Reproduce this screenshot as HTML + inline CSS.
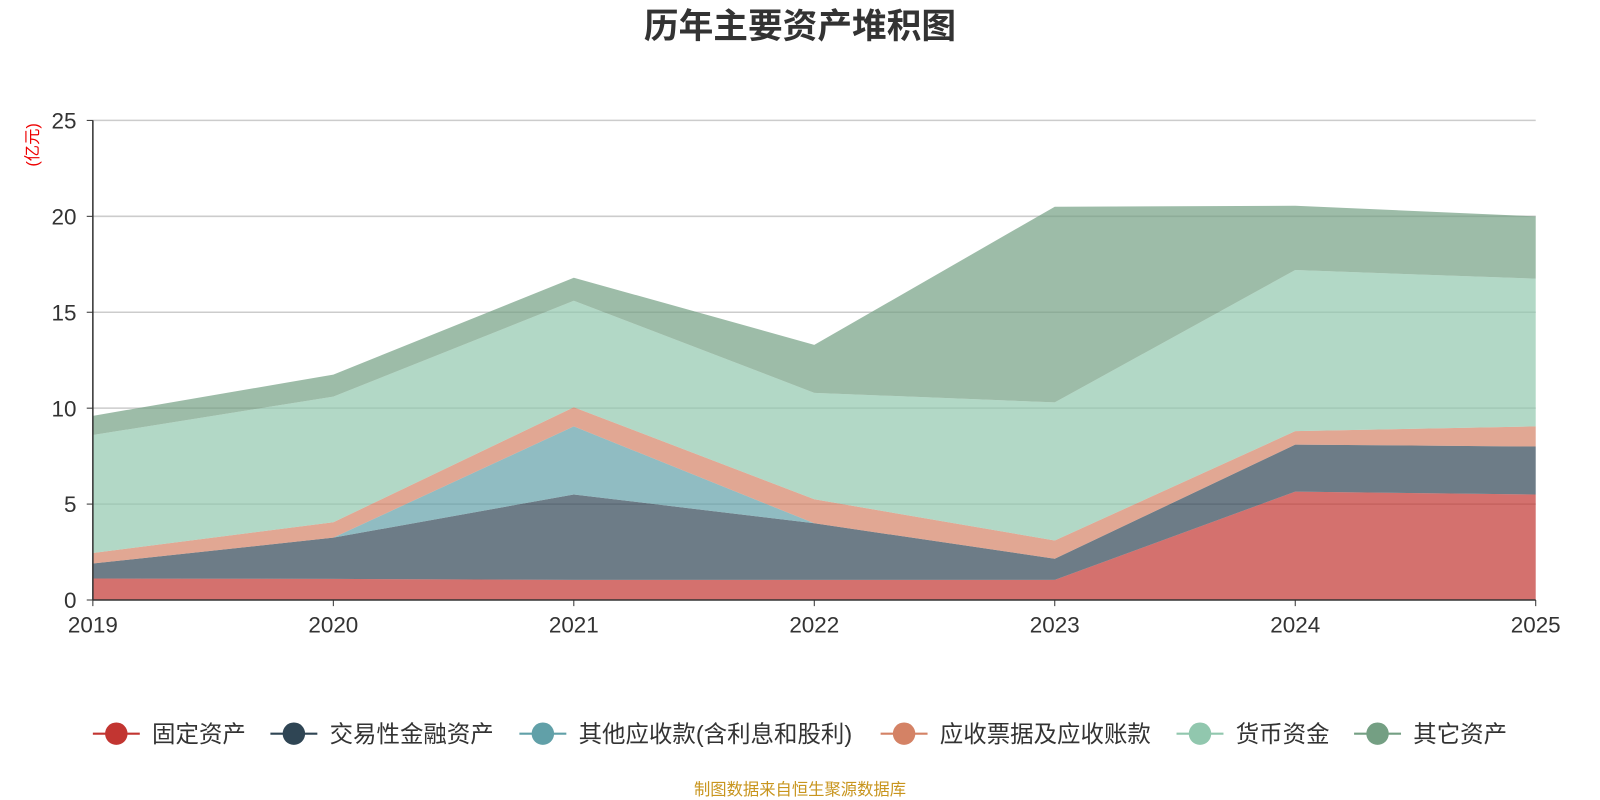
<!DOCTYPE html>
<html><head><meta charset="utf-8"><style>
body{margin:0;background:#fff;}
svg{display:block;font-family:"Liberation Sans","Noto Sans CJK SC",sans-serif;}
</style></head><body>
<svg id="c" width="1600" height="800" viewBox="0 0 1568 784">
<text x="784" y="37" text-anchor="middle" font-size="34" font-weight="bold" fill="#333">历年主要资产堆积图</text>
<text transform="translate(37,142) rotate(-90)" text-anchor="middle" font-size="16" fill="#e00">(亿元)</text>
<g id="grid"></g><g id="areas"></g><g id="axes"></g><g id="legend"></g>
<text x="784" y="779" text-anchor="middle" font-size="16" fill="#c8951e">制图数据来自恒生聚源数据库</text>
</svg>
<script>
const years=['2019','2020','2021','2022','2023','2024','2025'];
const seriesNames=['固定资产','交易性金融资产','其他应收款(含利息和股利)','应收票据及应收账款','货币资金','其它资产'];
const fixedAssets=[1.12,1.1,1.05,1.05,1.05,5.65,5.5];
const tradingAssets=[0.78,2.15,4.45,2.95,1.1,2.45,2.5];
const otherReceivables=[0,0,3.55,0,0,0,0];
const receivables=[0.55,0.8,1.0,1.25,0.95,0.7,1.05];
const cash=[6.15,6.55,5.55,5.55,7.2,8.4,7.7];
const otherAssets=[1.0,1.15,1.2,2.5,10.2,3.35,3.25];
const yTicks=[0,5,10,15,20,25];
const colors=['#c23531','#2f4554','#61a0a8','#d48265','#91c7ae','#749f83'];
const ns='http://www.w3.org/2000/svg';
const X0=91,X1=1505,Y0=588,Y1=118,YMAX=25;
const xs=i=>X0+(X1-X0)*i/(years.length-1);
const ys=v=>Y0-(Y0-Y1)*v/YMAX;
function mk(t,a,p){const e=document.createElementNS(ns,t);for(const k in a)e.setAttribute(k,a[k]);p.appendChild(e);return e;}
const G=document.getElementById('grid'),A=document.getElementById('areas'),AX=document.getElementById('axes'),L=document.getElementById('legend');
yTicks.forEach(t=>{
 if(t>0){const l=mk('line',{x1:X0,x2:X1,y1:ys(t),y2:ys(t),stroke:'#ccc','stroke-width':1.5},G);
 
 }
 const tx=mk('text',{x:X0-16,y:ys(t)+8,'text-anchor':'end','font-size':22,fill:'#333'},AX);tx.textContent=t;
 
 
 mk('line',{x1:X0-6,x2:X0,y1:ys(t),y2:ys(t),stroke:'#333'},AX);
});
const data=[fixedAssets,tradingAssets,otherReceivables,receivables,cash,otherAssets];
let base=years.map(()=>0);
data.forEach((s,k)=>{
 const top=base.map((b,i)=>b+s[i]);
 let d='M'+top.map((v,i)=>xs(i)+','+ys(v)).join(' L');
 for(let i=years.length-1;i>=0;i--)d+=' L'+xs(i)+','+ys(base[i]);
 const p=mk('path',{d:d+'Z',fill:colors[k],'fill-opacity':0.7},A);
 
 
 base=top;
});
mk('line',{x1:X0,x2:X0,y1:Y1,y2:Y0,stroke:'#333','stroke-width':1.5},AX);
mk('line',{x1:X0,x2:X1,y1:Y0,y2:Y0,stroke:'#333','stroke-width':1.5},AX);
years.forEach((y,i)=>{
 mk('line',{x1:xs(i),x2:xs(i),y1:Y0,y2:Y0+6,stroke:'#333'},AX);
 const t=mk('text',{x:xs(i),y:Y0+32,'text-anchor':'middle','font-size':22,fill:'#333'},AX);t.textContent=y;
 
 
});
const lx=[91,265,509,863,1153,1327];
seriesNames.forEach((n,k)=>{
 const g=mk('g',{},L);
 
 
 mk('line',{x1:lx[k],x2:lx[k]+46,y1:719,y2:719,stroke:colors[k],'stroke-width':2},g);
 mk('circle',{cx:lx[k]+23,cy:719,r:11,fill:colors[k]},g);
 const t=mk('text',{x:lx[k]+58,y:727,'font-size':23,fill:'#333'},g);t.textContent=n;
});
</script>
</body></html>
